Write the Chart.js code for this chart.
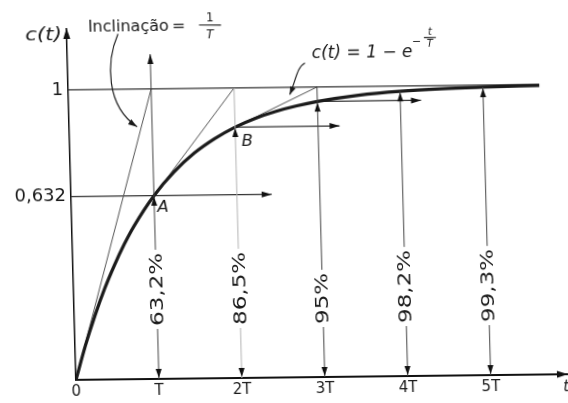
<!DOCTYPE html>
<html>
<head>
<meta charset="utf-8">
<script src="https://cdn.jsdelivr.net/npm/chart.js@4.4.0/dist/chart.umd.min.js"></script>
<style>
  html, body { margin: 0; padding: 0; background: #fff; overflow: hidden; }
  #caixa { width: 568px; height: 403px; background: #fff; }
</style>
</head>
<body>
<div id="caixa"><canvas id="grafica" width="568" height="403"></canvas></div>
<script>
  // tempo em unidades de T
  const marcasT = [0, 1, 2, 3, 4, 5];
  const rotulosT = ['0', 'T', '2T', '3T', '4T', '5T'];
  const marcasY = [0.632, 1];
  const rotulosY = ['0,632', '1'];

  // curva c(t)
  const curvaT = [0, 0.125, 0.25, 0.375, 0.5, 0.625, 0.75, 1, 1.25, 1.5, 1.75, 2, 2.25, 2.5, 2.75, 3, 3.5, 4, 4.5, 5, 5.68];
  const curvaC = [0, 0.118, 0.221, 0.313, 0.393, 0.465, 0.528, 0.632, 0.713, 0.777, 0.826, 0.865, 0.895, 0.918, 0.936, 0.95, 0.97, 0.982, 0.989, 0.993, 0.997];

  // valores marcados em T ... 5T
  const pontosT = [1, 2, 3, 4, 5];
  const pontosC = [0.632, 0.865, 0.95, 0.982, 0.993];
  const percentuais = ['63,2%', '86,5%', '95%', '98,2%', '99,3%'];

  // tangentes: saem de (t, c) e chegam em (t + 1, 1)
  const tangT = [0, 1, 2];
  const tangC = [0, 0.632, 0.865];

  // setas horizontais
  const setaY = [0.632, 0.865, 0.95];
  const setaIni = [0, 2, 3];
  const setaFim = [2.42, 3.26, 4.25];

  const fimEixoX = 5.92;
  const fimEixoY = 1.21;
  const fimCurva = 5.68;

  const FONTE = '"DejaVu Sans", sans-serif';

  // a figura original está levemente torta (scan)
  const CIS_X = 0.027, CIS_Y = -0.0115;
  const ORIG = [76, 380];
  const caixa = document.getElementById('caixa');
  caixa.style.transformOrigin = ORIG[0] + 'px ' + ORIG[1] + 'px';
  caixa.style.transform = `matrix(1, ${CIS_Y}, ${CIS_X}, 1, 0, 0)`;

  // posição na figura -> posição no canvas antes da inclinação
  function r(xr, yr) {
    const dx = xr - ORIG[0], dy = yr - ORIG[1];
    const det = 1 - CIS_X * CIS_Y;
    return [ORIG[0] + (dx - CIS_X * dy) / det, ORIG[1] + (dy - CIS_Y * dx) / det];
  }

  function ponta(ctx, xp, yp, ang, comp, meia) {
    ctx.save();
    ctx.translate(xp, yp);
    ctx.rotate(ang);
    ctx.beginPath();
    ctx.moveTo(0, 0);
    ctx.lineTo(-comp, -meia);
    ctx.lineTo(-comp, meia);
    ctx.closePath();
    ctx.fill();
    ctx.restore();
  }

  function linha(ctx, x1, y1, x2, y2) {
    ctx.beginPath();
    ctx.moveTo(x1, y1);
    ctx.lineTo(x2, y2);
    ctx.stroke();
  }

  function escrever(ctx, s, p, fonte, esc, alinh) {
    ctx.save();
    ctx.translate(p[0], p[1]);
    ctx.scale(esc, 1);
    ctx.font = fonte;
    ctx.textAlign = alinh;
    ctx.textBaseline = 'alphabetic';
    ctx.fillText(s, 0, 0);
    ctx.restore();
  }

  const desenhos = {
    id: 'desenhos',
    afterDatasetsDraw(chart) {
      const { ctx, scales: { x, y } } = chart;
      const px = v => x.getPixelForValue(v);
      const py = v => y.getPixelForValue(v);
      const B = Math.PI / 2;
      ctx.save();
      ctx.fillStyle = '#111';

      // pontas dos eixos
      ponta(ctx, px(0), py(fimEixoY) - 1, -B, 11, 3.5);
      ponta(ctx, px(fimEixoX) + 1, py(0), 0, 11, 3.5);

      // setas horizontais
      setaY.forEach((v, i) => {
        ponta(ctx, px(setaFim[i]), py(v), 0, 10, 3);
      });

      // linhas verticais com as porcentagens
      pontosT.forEach((t, i) => {
        const xx = px(t), base = py(0), topo = py(pontosC[i]);
        ctx.font = '18px ' + FONTE;
        const L = ctx.measureText(percentuais[i]).width * 1.28;
        const yb = base - 53, yt = yb - L;
        ctx.strokeStyle = i === 1 ? '#b4b4b4' : '#444';
        ctx.lineWidth = 1;
        linha(ctx, xx, base, xx, yb + 3);
        linha(ctx, xx, yt - 3, xx, topo);
        ctx.fillStyle = '#111';
        ponta(ctx, xx, base - 1, B, 9, 3);
        ponta(ctx, xx, topo + 1, -B, 9, 3);
        ctx.save();
        ctx.translate(xx, yb);
        ctx.rotate(-B);
        ctx.scale(1.28, 1);
        ctx.textAlign = 'left';
        ctx.textBaseline = 'middle';
        ctx.fillStyle = '#1a1a1a';
        ctx.fillText(percentuais[i], 0, 1);
        ctx.restore();
      });

      // prolongamentos verticais
      ctx.strokeStyle = '#444';
      linha(ctx, px(1), py(0.632), px(1), py(1.12));
      ponta(ctx, px(1), py(1.12), -B, 10, 3);
      ctx.strokeStyle = '#b4b4b4';
      linha(ctx, px(2), py(0.865), px(2), py(1));
      ctx.strokeStyle = '#444';
      linha(ctx, px(3), py(0.95), px(3), py(1));

      // letras A e B
      ctx.fillStyle = '#1a1a1a';
      escrever(ctx, 'A', [px(1) + 3, py(0.632) + 16], 'italic 15px ' + FONTE, 1.1, 'left');
      escrever(ctx, 'B', [px(2) + 6, py(0.865) + 19], 'italic 15px ' + FONTE, 1.1, 'left');

      // c(t) e t nos eixos
      escrever(ctx, 'c(t)', r(62, 40), 'italic 17px ' + FONTE, 1.25, 'right');
      escrever(ctx, 't', [px(fimEixoX) - 4, py(0) + 17], 'italic 15px ' + FONTE, 1, 'left');

      // Inclinação = 1/T
      escrever(ctx, 'Inclinação', r(88, 32), '16px ' + FONTE, 1, 'left');
      escrever(ctx, '=', r(172, 31), '16px ' + FONTE, 1, 'left');
      escrever(ctx, '1', r(210, 21), '12px ' + FONTE, 1, 'center');
      escrever(ctx, 'T', r(210, 38), 'italic 12px ' + FONTE, 1, 'center');
      ctx.strokeStyle = '#222';
      ctx.lineWidth = 1.2;
      let a = r(199, 25), b = r(221, 25);
      linha(ctx, a[0], a[1], b[0], b[1]);

      // seta curva para a tangente
      const fx = px(0.82), fy = py(0.87);
      const s1 = r(118, 34), c1 = r(106, 62), c2 = r(106, 106);
      ctx.beginPath();
      ctx.moveTo(s1[0], s1[1]);
      ctx.bezierCurveTo(c1[0], c1[1], c2[0], c2[1], fx, fy);
      ctx.stroke();
      ponta(ctx, fx, fy, Math.atan2(fy - c2[1], fx - c2[0]), 9, 3);

      // c(t) = 1 - e^(-t/T)
      escrever(ctx, 'c(t) = 1 − e', r(312, 58), 'italic 17px ' + FONTE, 1, 'left');
      escrever(ctx, '−', r(412, 45), '11px ' + FONTE, 1, 'left');
      escrever(ctx, 't', r(430, 35), 'italic 10px ' + FONTE, 1, 'center');
      escrever(ctx, 'T', r(430, 47), 'italic 10px ' + FONTE, 1, 'center');
      a = r(424, 37.5); b = r(436, 37.5);
      linha(ctx, a[0], a[1], b[0], b[1]);

      // seta curva para a curva
      const gx = px(2.67), gy = py(0.975);
      const s2 = r(305, 63), d1 = r(297, 67), d2 = r(296, 80);
      ctx.beginPath();
      ctx.moveTo(s2[0], s2[1]);
      ctx.bezierCurveTo(d1[0], d1[1], d2[0], d2[1], gx, gy);
      ctx.stroke();
      ponta(ctx, gx, gy, Math.atan2(gy - d2[1], gx - d2[0]), 8, 3);

      ctx.restore();
    }
  };

  const pares = (xs, ys) => xs.map((v, i) => ({ x: v, y: ys[i] }));

  const conjuntos = [
    {
      data: pares(curvaT, curvaC),
      borderColor: '#1b1b1b',
      borderWidth: 3.2,
      cubicInterpolationMode: 'monotone',
      order: 0
    },
    {
      data: [{ x: 0, y: 1 }, { x: fimCurva, y: 1 }],
      borderColor: '#333',
      borderWidth: 1.2,
      order: 1
    }
  ];
  tangT.forEach((t, i) => {
    conjuntos.push({
      data: [{ x: t, y: tangC[i] }, { x: t + 1, y: 1 }],
      borderColor: '#555',
      borderWidth: 1,
      order: 1
    });
  });
  setaY.forEach((v, i) => {
    conjuntos.push({
      data: [{ x: setaIni[i], y: v }, { x: setaFim[i], y: v }],
      borderColor: '#333',
      borderWidth: 1.2,
      order: 1
    });
  });

  new Chart(document.getElementById('grafica'), {
    type: 'line',
    data: { datasets: conjuntos },
    options: {
      responsive: false,
      animation: false,
      layout: { padding: { top: 29, right: 1, left: 0, bottom: 0 } },
      plugins: { legend: { display: false }, tooltip: { enabled: false } },
      elements: { point: { radius: 0 } },
      scales: {
        x: {
          type: 'linear',
          min: 0,
          max: fimEixoX,
          afterFit: s => { s.height = 23; },
          afterBuildTicks: s => { s.ticks = marcasT.map(v => ({ value: v })); },
          grid: { display: false, drawTicks: false },
          border: { display: true, color: '#111', width: 2 },
          ticks: {
            padding: 3,
            autoSkip: false,
            maxRotation: 0,
            color: '#1a1a1a',
            font: { family: FONTE, size: 15 },
            callback: (v, i) => rotulosT[i]
          }
        },
        y: {
          type: 'linear',
          min: 0,
          max: fimEixoY,
          afterFit: s => { s.width = 76; },
          afterBuildTicks: s => { s.ticks = marcasY.map(v => ({ value: v })); },
          grid: { display: false, drawTicks: false },
          border: { display: true, color: '#111', width: 1.5 },
          ticks: {
            padding: 5,
            color: '#1a1a1a',
            font: { family: FONTE, size: 18 },
            callback: (v, i) => rotulosY[i]
          }
        }
      }
    },
    plugins: [desenhos]
  });
</script>
</body>
</html>
